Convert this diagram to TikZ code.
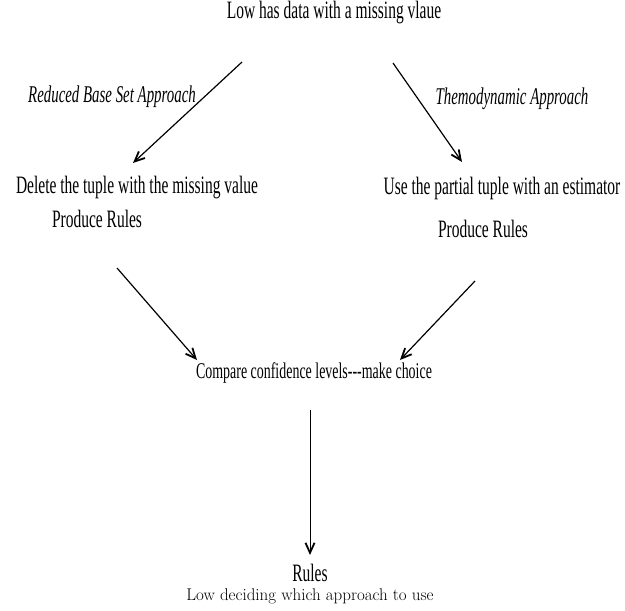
\documentclass[tikz,border=0pt]{standalone}
\usepackage{fontspec}
\newfontfamily\figfont[FakeStretch=0.62]{Liberation Serif}
\usetikzlibrary{arrows.meta}

\begin{document}
\begin{tikzpicture}[x=1pt,y=-1pt,
        fig text/.style={font=\figfont\fontsize{25}{27}\selectfont, inner sep=0pt},
        approach/.style={fig text, font=\figfont\itshape\fontsize{24}{26}\selectfont},
        flow/.style={line width=1.2pt, -{Straight Barb[length=10pt,width=9pt,line width=1.8pt]}}]
        \useasboundingbox (0,0) rectangle (625,611);

        % top
        \node[fig text] (data) at (334,13) {Low has data with a missing vlaue};

        % two approaches
        \node[approach] (rbs)  at (112,97) {Reduced Base Set Approach};
        \node[approach] (thermo) at (512,99) {Themodynamic Approach};
        \node[fig text] (del)  at (137,188) {Delete the tuple with the missing value};
        \node[fig text] (part) at (502,188) {Use the partial tuple with an estimator};
        \node[fig text] (prodL) at (97,219) {Produce Rules};
        \node[fig text] (prodR) at (483,229) {Produce Rules};

        % choice and result
        \node[fig text, font=\figfont\fontsize{22.5}{25}\selectfont] (cmp) at (314,373) {Compare confidence levels---make choice};
        \node[fig text, anchor=base] (rules) at (310,581) {Rules};
        \node[font=\fontsize{17}{19}\selectfont, inner sep=0pt, anchor=base] (caption) at (310,600) {Low deciding which approach to use};

        % arrow ends
        \coordinate (a1s) at (242,62);  \coordinate (a1e) at (133,163);
        \coordinate (a2s) at (393,63);  \coordinate (a2e) at (462,162);
        \coordinate (a3s) at (117,268); \coordinate (a3e) at (197,360);
        \coordinate (a4s) at (475,281); \coordinate (a4e) at (400,360);
        \coordinate (a5s) at (310,410); \coordinate (a5e) at (310,555);

        \draw[flow] (a1s) -- (a1e);
        \draw[flow] (a2s) -- (a2e);
        \draw[flow] (a3s) -- (a3e);
        \draw[flow] (a4s) -- (a4e);
        \draw[flow, line width=0.8pt] (a5s) -- (a5e);
      \end{tikzpicture}
\end{document}
